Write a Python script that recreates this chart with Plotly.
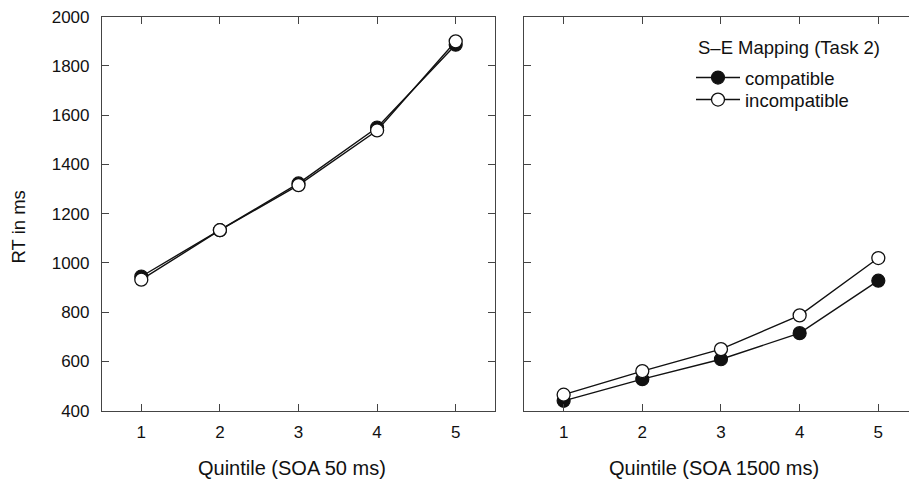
import plotly.graph_objects as go

# Reaction times (ms) by RT quintile, two SOA conditions
quintiles = [1, 2, 3, 4, 5]
soa50_compatible = [945, 1133, 1323, 1550, 1886]
soa50_incompatible = [932, 1133, 1316, 1538, 1900]
soa1500_compatible = [440, 528, 609, 715, 928]
soa1500_incompatible = [465, 561, 650, 787, 1020]

y_ticks = [400, 600, 800, 1000, 1200, 1400, 1600, 1800, 2000]

FONT = "Liberation Sans, Arial, Helvetica, sans-serif"
INK = "#111111"
AXIS = "#444444"

W, H = 909, 483

def px_x(v):
    return v / W

def px_y(v):
    return 1 - v / H

fig = go.Figure()

line_style = dict(color=INK, width=1.4)
filled = dict(symbol="circle", size=13, color=INK, line=dict(color=INK, width=1.2))
hollow = dict(symbol="circle", size=13, color="white", line=dict(color=INK, width=1.3))

fig.add_trace(go.Scatter(x=quintiles, y=soa50_compatible, mode="lines+markers",
                         line=line_style, marker=filled, name="compatible",
                         xaxis="x", yaxis="y", showlegend=False))
fig.add_trace(go.Scatter(x=quintiles, y=soa50_incompatible, mode="lines+markers",
                         line=line_style, marker=hollow, name="incompatible",
                         xaxis="x", yaxis="y", showlegend=False))
fig.add_trace(go.Scatter(x=quintiles, y=soa1500_compatible, mode="lines+markers",
                         line=line_style, marker=filled, name="compatible",
                         xaxis="x2", yaxis="y2", legend="legend"))
fig.add_trace(go.Scatter(x=quintiles, y=soa1500_incompatible, mode="lines+markers",
                         line=line_style, marker=hollow, name="incompatible",
                         xaxis="x2", yaxis="y2", legend="legend2"))

y_dom = [px_y(410.7), px_y(16.7)]

common_x = dict(
    tickvals=quintiles, ticks="inside", ticklen=7, tickwidth=1, tickcolor=AXIS,
    showline=True, linecolor=AXIS, linewidth=1.2, mirror="ticks",
    showgrid=False, zeroline=False, automargin=False,
    tickfont=dict(family=FONT, size=17, color=INK), ticklabelstandoff=6,
)
common_y = dict(
    range=[400, 2000], tickvals=y_ticks, ticks="inside", ticklen=7, tickwidth=1,
    tickcolor=AXIS, showline=True, linecolor=AXIS, linewidth=1.2,
    showgrid=False, zeroline=False, automargin=False,
    tickfont=dict(family=FONT, size=17, color=INK),
)

legend_common = dict(
    xanchor="left", yanchor="top", bgcolor="rgba(0,0,0,0)", borderwidth=0,
    font=dict(family=FONT, size=18.5, color=INK), itemwidth=44, tracegroupgap=0,
)

fig.update_layout(
    width=W, height=H,
    margin=dict(l=0, r=0, t=0, b=0, autoexpand=False),
    paper_bgcolor="white", plot_bgcolor="white",
    xaxis=dict(domain=[px_x(102), px_x(495)], range=[0.5, 5.5], anchor="y", **common_x),
    yaxis=dict(domain=y_dom, anchor="x", mirror="ticks", ticklabelstandoff=8, **common_y),
    xaxis2=dict(domain=[px_x(524.3), 1.0], range=[0.5, 5.39], anchor="y2", **common_x),
    yaxis2=dict(domain=y_dom, anchor="x2", mirror=False, showticklabels=False, **common_y),
    legend=dict(x=px_x(691), y=px_y(59), **legend_common),
    legend2=dict(x=px_x(691), y=px_y(81), **legend_common),
    annotations=[
        dict(text="S\u2013E Mapping (Task 2)", x=px_x(696), y=px_y(48), xref="paper", yref="paper",
             showarrow=False, font=dict(family=FONT, size=18.5, color=INK),
             xanchor="left", yanchor="middle"),
        dict(text="RT in ms", x=px_x(18.5), y=px_y(227), xref="paper", yref="paper",
             textangle=-90, showarrow=False, font=dict(family=FONT, size=18.5, color=INK),
             xanchor="center", yanchor="middle"),
        dict(text="Quintile (SOA 50 ms)", x=px_x(292), y=px_y(468), xref="paper", yref="paper",
             showarrow=False, font=dict(family=FONT, size=20, color=INK),
             xanchor="center", yanchor="middle"),
        dict(text="Quintile (SOA 1500 ms)", x=px_x(714), y=px_y(468), xref="paper", yref="paper",
             showarrow=False, font=dict(family=FONT, size=20, color=INK),
             xanchor="center", yanchor="middle"),
    ],
)

fig.write_html("out.html")
